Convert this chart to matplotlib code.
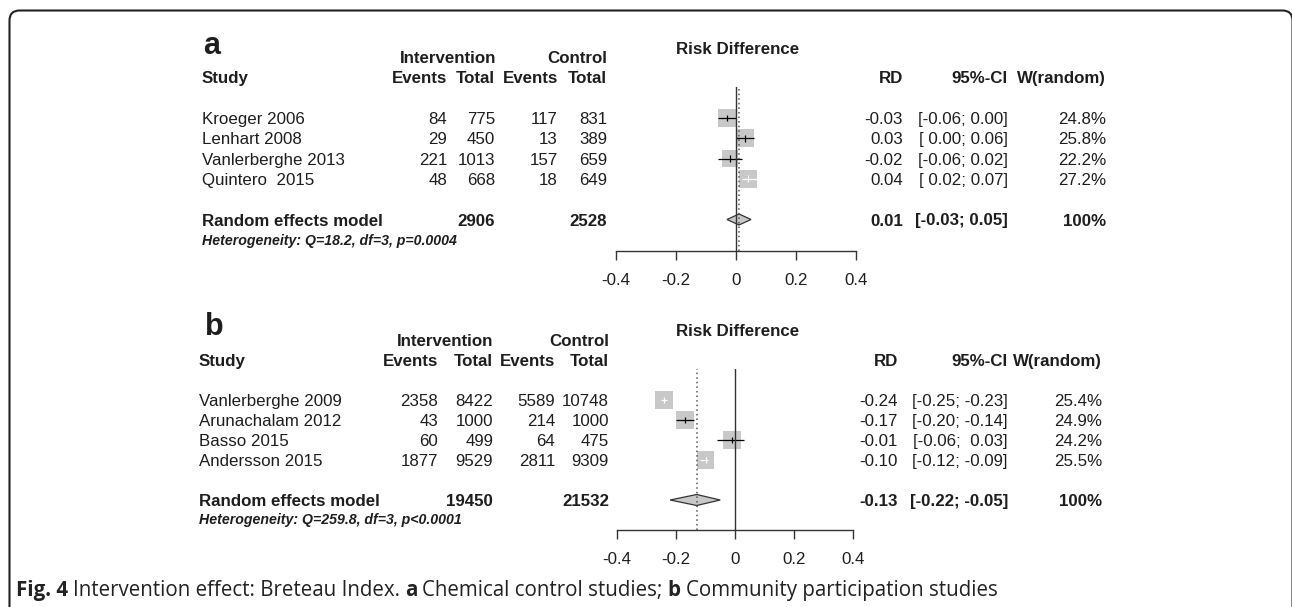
"""Forest plots: intervention effect on Breteau Index (Fig. 4 a/b)."""
import numpy as np
import matplotlib
matplotlib.use("Agg")
import matplotlib.pyplot as plt
from matplotlib.patches import Polygon, FancyBboxPatch

W, H = 1292, 607
FS = 12.2
INK = "#1e1e1e"
GREY = "#c8c8c8"
plt.rcParams["font.family"] = ["Liberation Sans", "DejaVu Sans"]

# panel a: chemical control studies
a_study = ["Kroeger 2006", "Lenhart 2008", "Vanlerberghe 2013", "Quintero  2015"]
a_ev_int = [84, 29, 221, 48]
a_tot_int = [775, 450, 1013, 668]
a_ev_ctl = [117, 13, 157, 18]
a_tot_ctl = [831, 389, 659, 649]
a_rd = [-0.03, 0.03, -0.02, 0.04]
a_lo = [-0.06, 0.00, -0.06, 0.02]
a_hi = [0.00, 0.06, 0.02, 0.07]
a_w = [24.8, 25.8, 22.2, 27.2]
a_pool = [0.01, -0.03, 0.05]
a_sum_tot = [2906, 2528]
a_het = "Heterogeneity: Q=18.2, df=3, p=0.0004"

# panel b: community participation studies
b_study = ["Vanlerberghe 2009", "Arunachalam 2012", "Basso 2015", "Andersson 2015"]
b_ev_int = [2358, 43, 60, 1877]
b_tot_int = [8422, 1000, 499, 9529]
b_ev_ctl = [5589, 214, 64, 2811]
b_tot_ctl = [10748, 1000, 475, 9309]
b_rd = [-0.24, -0.17, -0.01, -0.10]
b_lo = [-0.25, -0.20, -0.06, -0.12]
b_hi = [-0.23, -0.14, 0.03, -0.09]
b_w = [25.4, 24.9, 24.2, 25.5]
b_pool = [-0.13, -0.22, -0.05]
b_sum_tot = [19450, 21532]
b_het = "Heterogeneity: Q=259.8, df=3, p<0.0001"

ticks = [-0.4, -0.2, 0, 0.2, 0.4]
tick_labels = ["-0.4", "-0.2", "0", "0.2", "0.4"]

fig = plt.figure(figsize=(W / 100, H / 100), dpi=100)
bg = fig.add_axes([0, 0, 1, 1])
bg.set_xlim(0, W)
bg.set_ylim(H, 0)
bg.axis("off")

frame = FancyBboxPatch((9.5, 10.5), 1283, 700, boxstyle="round,pad=0,rounding_size=10",
                       fc="none", ec="#222222", lw=1.5)
bg.add_patch(frame)


def txt(x, y, s, ha="left", **kw):
    kw.setdefault("fontsize", FS)
    bg.text(x, y, s, ha=ha, va="baseline", color=INK, **kw)


def fmt_ci(lo, hi):
    los = [f"{v:.2f}" for v in lo]
    his = [f"{v:.2f}" for v in hi]
    wl = max(len(s) for s in los)
    wh = max(len(s) for s in his)
    return [f"[{l:>{wl}}; {h:>{wh}}]" for l, h in zip(los, his)]


def panel(lay, study, ev1, n1, ev2, n2, rd, lo, hi, w, pool, tots, het):
    L = lay
    txt(L["label"][0], L["label"][1], L["tag"], fontsize=22, fontweight="bold")
    txt(L["int_x"], L["hdr1"], "Intervention", ha="center", fontweight="bold")
    txt(L["cols"][3], L["hdr1"], "Control", ha="right", fontweight="bold")
    txt(L["rdhead"][0], L["rdhead"][1], "Risk Difference", ha="center", fontweight="bold")
    txt(L["study_x"], L["hdr2"], "Study", fontweight="bold")
    for x, s in zip(L["cols"], ["Events", "Total", "Events", "Total"]):
        txt(x, L["hdr2"], s, ha="right", fontweight="bold")
    txt(L["rd_x"], L["hdr2"], "RD", ha="right", fontweight="bold")
    txt(L["ci_x"], L["hdr2"], "95%-CI", ha="right", fontweight="bold")
    txt(L["w_x"], L["hdr2"], "W(random)", ha="right", fontweight="bold")

    cis = fmt_ci(lo + [pool[1]], hi + [pool[2]])
    for i in range(len(study)):
        y = L["rows"] + L["step"] * i
        txt(L["study_x"], y, study[i])
        for x, v in zip(L["cols"], [ev1[i], n1[i], ev2[i], n2[i]]):
            txt(x, y, str(v), ha="right")
        txt(L["rd_x"], y, f"{rd[i]:.2f}", ha="right")
        txt(L["ci_x"], y, cis[i], ha="right")
        txt(L["w_x"], y, f"{w[i]:.1f}%", ha="right")

    ys = L["rows"] + L["step"] * 5
    txt(L["study_x"], ys, "Random effects model", fontweight="bold")
    txt(L["cols"][1], ys, str(tots[0]), ha="right", fontweight="bold")
    txt(L["cols"][3], ys, str(tots[1]), ha="right", fontweight="bold")
    txt(L["rd_x"], ys, f"{pool[0]:.2f}", ha="right", fontweight="bold")
    txt(L["ci_x"], ys, cis[-1], ha="right", fontweight="bold")
    txt(L["w_x"], ys, "100%", ha="right", fontweight="bold")
    txt(L["study_x"], L["het"], het, fontsize=10.2, fontweight="bold", fontstyle="italic")

    # forest axes, rows in units of table lines
    x0, x1, top, bot = L["x0"], L["x1"], L["top"], L["axis"]
    c0 = L["rows"] - 6
    step = L["step"]
    fa = fig.add_axes([x0 / W, 1 - bot / H, (x1 - x0) / W, (bot - top) / H])
    fa.set_xlim(-0.4, 0.4)
    fa.set_ylim((bot - c0) / step, (top - c0) / step)
    fa.patch.set_alpha(0)
    for sp in ["top", "left", "right"]:
        fa.spines[sp].set_visible(False)
    fa.spines["bottom"].set_color("#333333")
    fa.spines["bottom"].set_linewidth(1.0)
    fa.set_yticks([])
    fa.set_xticks(ticks)
    fa.set_xticklabels(tick_labels, fontsize=FS, color=INK)
    fa.tick_params(axis="x", direction="out", length=6.5, width=1.0, color="#333333", pad=9)

    ppr = (x1 - x0) / 0.8
    rows = np.arange(len(rd))
    side_px = 17.5 * np.sqrt(np.array(w) / 25.0)
    fa.scatter(rd, rows, s=(side_px * 0.72) ** 2, marker="s", c=GREY, linewidths=0,
               zorder=2)
    for r, m, l, h, sp in zip(rows, rd, lo, hi, side_px):
        col = "white" if (h - l) < sp / ppr else "black"
        fa.hlines(r, l, h, color=col, lw=0.9, zorder=3)
        fa.vlines(m, r - 0.17, r + 0.17, color=col, lw=0.9, zorder=3)

    hh = 5.5 / step
    dia = Polygon([(pool[1], 5), (pool[0], 5 - hh), (pool[2], 5), (pool[0], 5 + hh)],
                  closed=True, fc=GREY, ec="#333333", lw=0.9, zorder=3)
    fa.add_patch(dia)
    fa.axvline(0, color="#333333", lw=1.0, zorder=4)
    fa.axvline(pool[0], color="#555555", lw=1.1, ls=(0, (1, 2)), zorder=4)


lay_a = dict(tag="a", label=(203, 54), study_x=202, cols=[447, 495, 558, 607], int_x=448,
             hdr1=63, hdr2=83, rows=124, step=20.3, het=245, rd_x=903, ci_x=1008,
             w_x=1106, rdhead=(738, 54), x0=616, x1=856, top=87, axis=251)
lay_b = dict(tag="b", label=(205, 335), study_x=199, cols=[438, 493, 555, 609], int_x=445,
             hdr1=346, hdr2=366, rows=406, step=20, het=524, rd_x=898, ci_x=1008,
             w_x=1102, rdhead=(738, 336), x0=617, x1=853, top=369, axis=530)

panel(lay_a, a_study, a_ev_int, a_tot_int, a_ev_ctl, a_tot_ctl, a_rd, a_lo, a_hi, a_w,
      a_pool, a_sum_tot, a_het)
panel(lay_b, b_study, b_ev_int, b_tot_int, b_ev_ctl, b_tot_ctl, b_rd, b_lo, b_hi, b_w,
      b_pool, b_sum_tot, b_het)

# caption with mixed bold pieces
renderer = fig.canvas.get_renderer()
pieces = [("Fig. 4", "bold"), ("Intervention effect: Breteau Index.", "normal"),
          ("a", "bold"), ("Chemical control studies;", "normal"),
          ("b", "bold"), ("Community participation studies", "normal")]
cx = 16
for s, wgt in pieces:
    t = bg.text(cx, 596, s, fontsize=14.8, fontweight=wgt, family="Open Sans",
                color="#222222", va="baseline", ha="left")
    cx = t.get_window_extent(renderer=renderer).x1 + 5

fig.savefig("out.png", dpi=100)
